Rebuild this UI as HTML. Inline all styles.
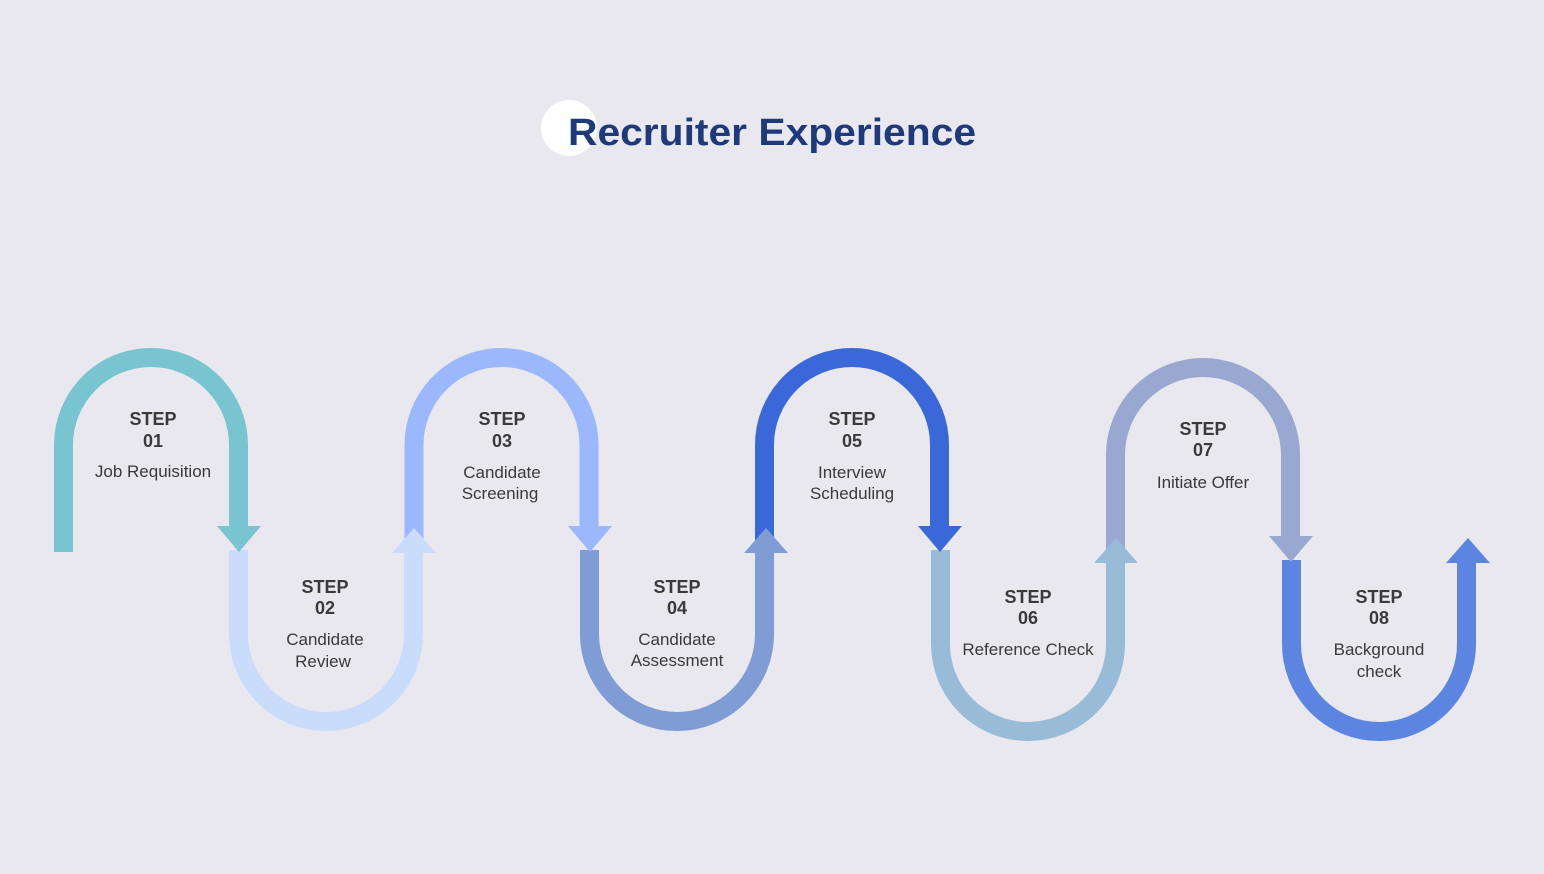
<!DOCTYPE html>
<html><head><meta charset="utf-8"><style>
html,body{margin:0;padding:0;background:#e9e8ef;}
svg{display:block;}
text{font-family:"Liberation Sans",sans-serif;fill:#3a3a3a;text-anchor:middle;}
.b{font-weight:bold;font-size:18px;}
.r{font-size:17px;}
</style></head><body>
<svg width="1544" height="874" viewBox="0 0 1544 874" xmlns="http://www.w3.org/2000/svg">
<rect width="1544" height="874" fill="#e9e8ef"/>
<circle cx="569" cy="128" r="28" fill="#ffffff"/>
<text x="772" y="145" style="font-weight:bold;font-size:38px;fill:#1f3a7a" textLength="408" lengthAdjust="spacingAndGlyphs">Recruiter Experience</text>
<g fill="none" stroke-width="19">
<!-- seg 8 -->
<path d="M1291.5 560 L1291.5 644 A87.5 87.5 0 0 0 1466.5 644 L1466.5 560" stroke="#5b85e0"/>
<polygon points="1446,563 1490,563 1468,538" fill="#5b85e0" stroke="none"/>
<!-- seg 7 -->
<path d="M1115.5 560 L1115.5 455 A87.5 87.5 0 0 1 1290.5 455 L1290.5 538" stroke="#98a8d0"/>
<polygon points="1269,536 1313,536 1291,562" fill="#98a8d0" stroke="none"/>
<!-- seg 6 -->
<path d="M940.5 550 L940.5 644 A87.5 87.5 0 0 0 1115.5 644 L1115.5 560" stroke="#98bcd8"/>
<polygon points="1094,563 1138,563 1116,538" fill="#98bcd8" stroke="none"/>
<!-- seg 5 -->
<path d="M764.5 550 L764.5 445 A87.5 87.5 0 0 1 939.5 445 L939.5 528" stroke="#3a68d8"/>
<polygon points="918,526 962,526 940,552" fill="#3a68d8" stroke="none"/>
<!-- seg 4 -->
<path d="M589.5 550 L589.5 634 A87.5 87.5 0 0 0 764.5 634 L764.5 550" stroke="#7f9cd4"/>
<polygon points="744,553 788,553 766,528" fill="#7f9cd4" stroke="none"/>
<!-- seg 3 -->
<path d="M414 550 L414 445 A87.5 87.5 0 0 1 589 445 L589 528" stroke="#9bb8fc"/>
<polygon points="568,526 612,526 590,552" fill="#9bb8fc" stroke="none"/>
<!-- seg 2 -->
<path d="M238.5 550 L238.5 634 A87.5 87.5 0 0 0 413.5 634 L413.5 550" stroke="#cadcfc"/>
<polygon points="392,553 436,553 414,528" fill="#cadcfc" stroke="none"/>
<!-- seg 1 -->
<path d="M63.5 552 L63.5 445 A87.5 87.5 0 0 1 238.5 445 L238.5 528" stroke="#78c4d0"/>
<polygon points="217,526 261,526 239,552" fill="#78c4d0" stroke="none"/>
</g>
<g>
<text class="b" x="153" y="425">STEP</text><text class="b" x="153" y="447">01</text>
<text class="r" x="153" y="477">Job Requisition</text>

<text class="b" x="325" y="593">STEP</text><text class="b" x="325" y="614">02</text>
<text class="r" x="325" y="645">Candidate</text><text class="r" x="323" y="667">Review</text>

<text class="b" x="502" y="425">STEP</text><text class="b" x="502" y="447">03</text>
<text class="r" x="502" y="478">Candidate</text><text class="r" x="500" y="499">Screening</text>

<text class="b" x="677" y="593">STEP</text><text class="b" x="677" y="614">04</text>
<text class="r" x="677" y="645">Candidate</text><text class="r" x="677" y="666">Assessment</text>

<text class="b" x="852" y="425">STEP</text><text class="b" x="852" y="447">05</text>
<text class="r" x="852" y="478">Interview</text><text class="r" x="852" y="499">Scheduling</text>

<text class="b" x="1028" y="603">STEP</text><text class="b" x="1028" y="624">06</text>
<text class="r" x="1028" y="655">Reference Check</text>

<text class="b" x="1203" y="435">STEP</text><text class="b" x="1203" y="456">07</text>
<text class="r" x="1203" y="488">Initiate Offer</text>

<text class="b" x="1379" y="603">STEP</text><text class="b" x="1379" y="624">08</text>
<text class="r" x="1379" y="655">Background</text><text class="r" x="1379" y="677">check</text>
</g>
</svg>
</body></html>
